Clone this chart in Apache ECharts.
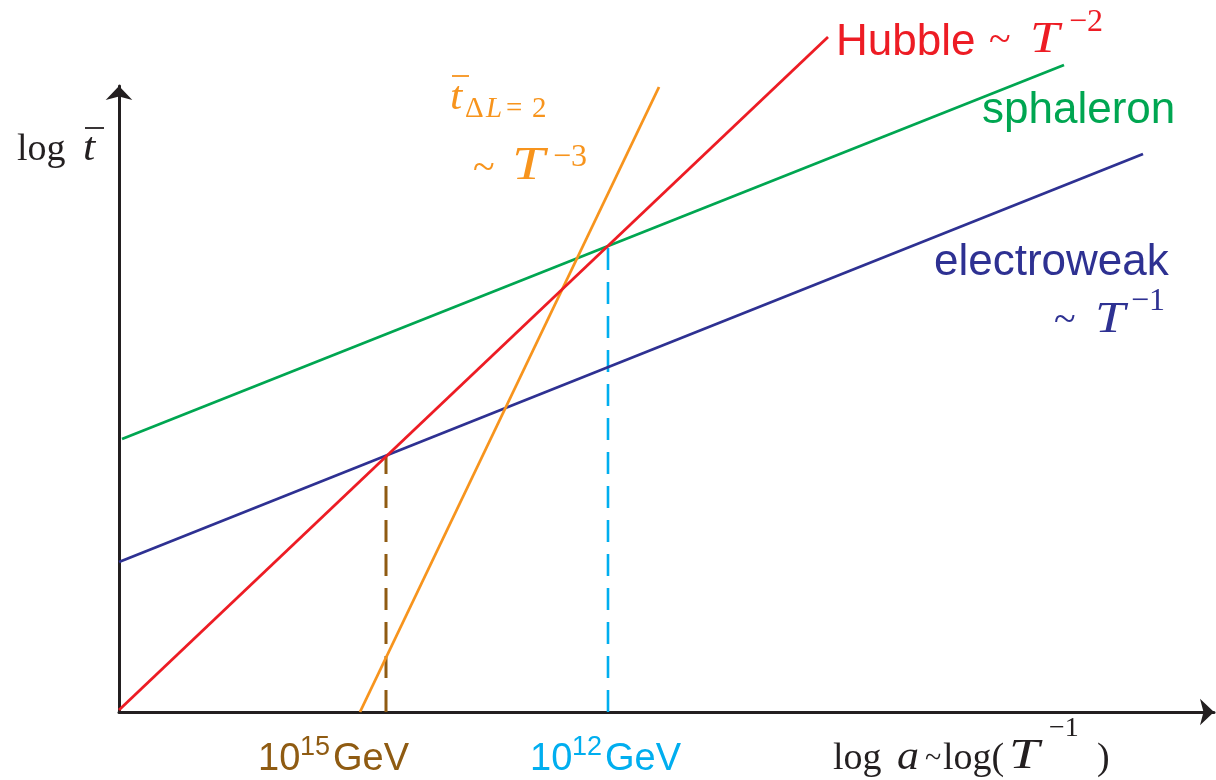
<!DOCTYPE html>
<html>
<head>
<meta charset="utf-8">
<script src="https://cdn.jsdelivr.net/npm/echarts@6/dist/echarts.min.js"></script>
<style>html,body{margin:0;padding:0;background:#fff}#c{width:1216px;height:780px}</style>
</head>
<body>
<div id="c"></div>
<script>
// Schematic data (x: log a, y: log t̄), arbitrary units
var hubble      = [[0.00, 0.02], [7.09, 6.75]];
var sphaleron   = [[0.03, 2.73], [9.45, 6.47]];
var electroweak = [[0.00, 1.50], [10.24, 5.58]];
var deltaL2     = [[2.41, 0.00], [5.40, 6.25]];
var gut15       = [[2.67, 0.00], [2.67, 2.57]];
var gev12       = [[4.89, 0.00], [4.89, 4.66]];
var xRange = [0, 10.95];
var yRange = [0, 6.26];

var SANS = '"Liberation Sans", Arial, sans-serif';
var SERIF = '"Liberation Serif", "Times New Roman", serif';
var INK = '#231f20';
var RED = '#ed1c24', GREEN = '#00a651', BLUE = '#2e3192', ORANGE = '#f7941d', BROWN = '#8f5b12', CYAN = '#00aeef';

function txt(s, x, base, size, color, fam, italic, sx) {
  return {
    type: 'text', x: x, y: base - 0.35 * size, scaleX: sx || 1, silent: true,
    style: { text: s, fill: color, font: (italic ? 'italic ' : '') + size + 'px ' + fam, align: 'left', verticalAlign: 'middle' }
  };
}
function bar(x1, x2, y, color) {
  return { type: 'line', silent: true, shape: { x1: x1, y1: y, x2: x2, y2: y }, style: { stroke: color, lineWidth: 1.8 } };
}

var graphics = [
  // y axis title: log t̄
  txt('log', 17, 163, 38, INK, SERIF, false),
  txt('t', 83, 163, 40, INK, SERIF, true, 1.1),
  bar(85, 104, 128, INK),
  // orange label
  txt('t', 450, 112, 40, ORANGE, SERIF, true, 1.1),
  bar(452, 469, 76, ORANGE),
  txt('\u0394', 465, 120, 29, ORANGE, SERIF, false),
  txt('L', 486, 120, 29, ORANGE, SERIF, true),
  txt('=', 506, 120, 29, ORANGE, SERIF, false),
  txt('2', 532, 120, 29, ORANGE, SERIF, false),
  txt('~', 473, 183, 40, ORANGE, SERIF, false),
  txt('T', 512, 183, 47, ORANGE, SERIF, true, 1.25),
  txt('\u22123', 553, 169, 32, ORANGE, SERIF, false),
  // Hubble
  txt('Hubble', 836, 58, 44, RED, SANS, false),
  txt('~', 989, 55, 40, RED, SERIF, false),
  txt('T', 1030, 56, 44, RED, SERIF, true, 1.2),
  txt('\u22122', 1069, 34, 32, RED, SERIF, false),
  // sphaleron
  txt('sphaleron', 982, 126, 44, GREEN, SANS, false),
  // electroweak
  txt('electroweak', 934, 278, 44, BLUE, SANS, false),
  txt('~', 1054, 335, 40, BLUE, SERIF, false),
  txt('T', 1095, 336, 45, BLUE, SERIF, true, 1.2),
  txt('\u22121', 1131, 313, 32, BLUE, SERIF, false),
  // x axis title
  txt('log', 833, 772, 38, INK, SERIF, false),
  txt('a', 897, 772, 40, INK, SERIF, true, 1.1),
  txt('~', 925, 770, 30, INK, SERIF, false),
  txt('log(', 943, 772, 38, INK, SERIF, false),
  txt('T', 1009, 772, 42, INK, SERIF, true, 1.3),
  txt('\u22121', 1049, 738, 28, INK, SERIF, false),
  txt(')', 1097, 772, 38, INK, SERIF, false),
  // energy labels
  txt('10', 258, 773, 38, BROWN, SANS, false),
  txt('15', 300, 757, 27, BROWN, SANS, false),
  txt('GeV', 333, 773, 38, BROWN, SANS, false),
  txt('10', 530, 773, 38, CYAN, SANS, false),
  txt('12', 572, 757, 27, CYAN, SANS, false),
  txt('GeV', 605, 773, 38, CYAN, SANS, false)
];

function lineSeries(name, data, color, width, dash) {
  return {
    name: name, type: 'line', data: data, showSymbol: false, symbol: 'none', clip: false, silent: true,
    lineStyle: { color: color, width: width, type: dash || 'solid', cap: 'butt' }, z: dash ? 3 : 4
  };
}

var chart = echarts.init(document.getElementById('c'), null, { renderer: 'canvas' });
chart.setOption({
  animation: false,
  backgroundColor: '#ffffff',
  grid: { left: 119, right: 2, top: 86, bottom: 68, containLabel: false },
  xAxis: {
    type: 'value', min: xRange[0], max: xRange[1],
    axisLine: { show: true, onZero: false, symbol: ['none', 'arrow'], symbolSize: [20, 14], lineStyle: { color: INK, width: 3 } },
    axisTick: { show: false }, axisLabel: { show: false }, splitLine: { show: false }
  },
  yAxis: {
    type: 'value', min: yRange[0], max: yRange[1],
    axisLine: { show: true, onZero: false, symbol: ['none', 'arrow'], symbolSize: [20, 14], lineStyle: { color: INK, width: 3 } },
    axisTick: { show: false }, axisLabel: { show: false }, splitLine: { show: false }
  },
  series: [
    lineSeries('gut15', gut15, BROWN, 3, [22, 12]),
    lineSeries('gev12', gev12, CYAN, 2.6, [22, 12]),
    lineSeries('sphaleron', sphaleron, GREEN, 2.8),
    lineSeries('electroweak', electroweak, BLUE, 2.8),
    lineSeries('deltaL2', deltaL2, ORANGE, 2.8),
    lineSeries('hubble', hubble, RED, 2.8)
  ],
  graphic: graphics
});
</script>
</body>
</html>
